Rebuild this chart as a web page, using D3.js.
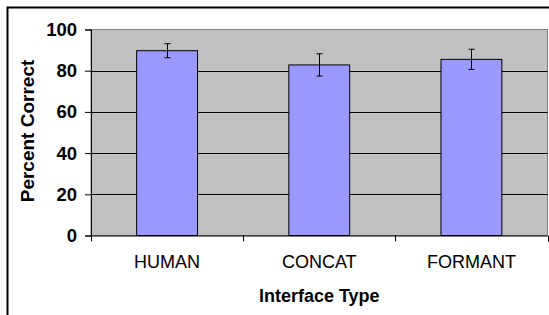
<!DOCTYPE html>
<html><head><meta charset="utf-8">
<script src="https://cdn.jsdelivr.net/npm/d3@7"></script>
<style>body{margin:0;background:#fff}svg{display:block}text{font-family:"Liberation Sans",Arial,sans-serif}</style>
</head><body><svg id="c" width="549" height="315"></svg>
<script>
const categories = ["HUMAN", "CONCAT", "FORMANT"];
const values = [89.7, 82.8, 85.5];
const errors = [3.4, 5.4, 4.9];
const yTicks = [0, 20, 40, 60, 80, 100];
const yTitle = "Percent Correct";
const xTitle = "Interface Type";

const svg = d3.select("#c");
const L = 91, T = 29.5, R = 547.5, B = 235.5;
const x = d3.scaleBand().domain(categories).range([L, R]).paddingInner(0).paddingOuter(0);
const y = d3.scaleLinear().domain([0, 100]).range([B, T]);

// outer border
svg.append("path").attr("d", `M7.5,315 V7.5 H549`).attr("fill", "none").attr("stroke", "#000").attr("stroke-width", 2);

// plot area
svg.append("rect").attr("x", L).attr("y", T).attr("width", R - L).attr("height", B - T)
  .attr("fill", "#c0c0c0").attr("stroke", "#808080").attr("stroke-width", 1);

// gridlines
svg.append("g").selectAll("line").data(yTicks.filter(d => d > 0 && d < 100)).join("line")
  .attr("x1", L).attr("x2", R).attr("y1", d => Math.round(y(d)) + 0.5).attr("y2", d => Math.round(y(d)) + 0.5)
  .attr("stroke", "#000").attr("stroke-width", 1);

// bars
const bw = x.bandwidth() * 0.4;
svg.append("g").selectAll("rect").data(categories).join("rect")
  .attr("x", (d) => x(d) + (x.bandwidth() - bw) / 2)
  .attr("y", (d, i) => y(values[i]))
  .attr("width", bw)
  .attr("height", (d, i) => B - y(values[i]))
  .attr("fill", "#9999ff").attr("stroke", "#000").attr("stroke-width", 1);

// error bars
const eg = svg.append("g").attr("stroke", "#000").attr("stroke-width", 1);
categories.forEach((c, i) => {
  const cx = Math.round(x(c) + x.bandwidth() / 2) + 0.5;
  const y1 = y(values[i] + errors[i]), y2 = y(values[i] - errors[i]);
  eg.append("line").attr("x1", cx).attr("x2", cx).attr("y1", y1).attr("y2", y2);
  eg.append("line").attr("x1", cx - 3).attr("x2", cx + 3).attr("y1", y1).attr("y2", y1);
  eg.append("line").attr("x1", cx - 3).attr("x2", cx + 3).attr("y1", y2).attr("y2", y2);
});

// y axis
const ya = svg.append("g").attr("transform", `translate(${L},0)`)
  .call(d3.axisLeft(y).tickValues(yTicks).tickSize(6).tickPadding(8).tickFormat(d3.format("d")));
ya.select(".domain").attr("stroke", "#000");
ya.selectAll("text").attr("font-size", 18.5).attr("font-weight", "bold").attr("fill", "#000")
  .attr("font-family", "Liberation Sans, Arial, sans-serif");

// x axis
const xa = svg.append("g").attr("transform", `translate(0,${B})`)
  .call(d3.axisBottom(x).tickSize(0).tickPadding(20));
xa.select(".domain").attr("stroke", "#000").attr("d", `M${L},0.5H${R}`);
xa.selectAll("text").attr("font-size", 18).attr("fill", "#000").attr("font-family", "Liberation Sans, Arial, sans-serif");
// boundary ticks between categories
const bounds = categories.map(c => x(c)).concat([R]);
svg.append("g").selectAll("line").data(bounds).join("line")
  .attr("x1", d => Math.round(d) + 0.5).attr("x2", d => Math.round(d) + 0.5)
  .attr("y1", B).attr("y2", B + 6).attr("stroke", "#000");

// titles
svg.append("text").attr("transform", `translate(34,131) rotate(-90)`).attr("text-anchor", "middle")
  .attr("font-size", 19).attr("font-weight", "bold").text(yTitle);
svg.append("text").attr("x", (L + R) / 2).attr("y", 301.5).attr("text-anchor", "middle")
  .attr("font-size", 18).attr("font-weight", "bold").text(xTitle);
</script></body></html>
